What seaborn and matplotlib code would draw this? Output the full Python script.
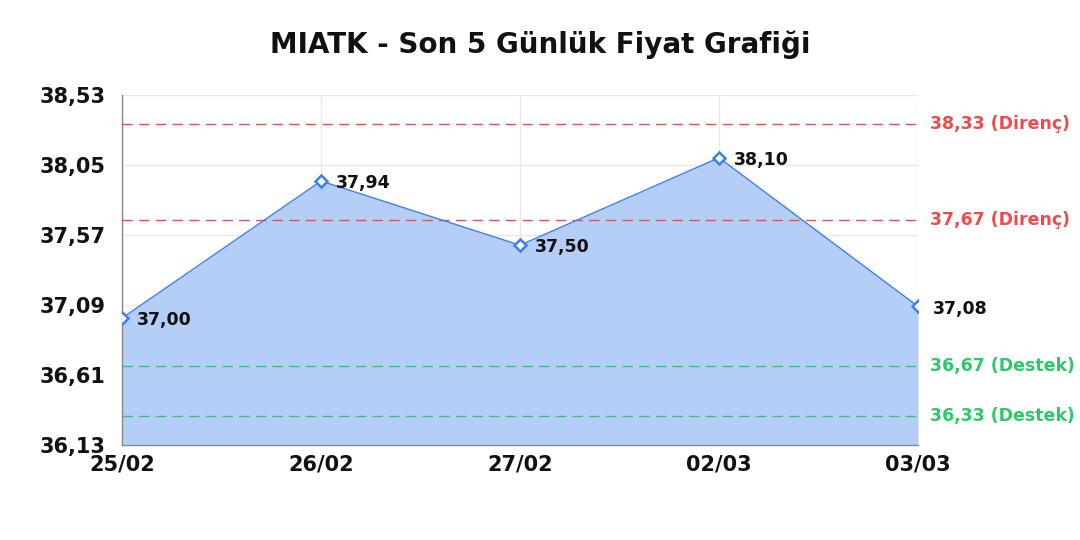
import numpy as np
import pandas as pd
import matplotlib
matplotlib.use('Agg')
import matplotlib.pyplot as plt
import seaborn as sns

# Data
dates = ['25/02', '26/02', '27/02', '02/03', '03/03']
prices = [37.00, 37.94, 37.50, 38.10, 37.08]
resistance = [38.33, 37.67]
support = [36.67, 36.33]
y_ticks = [36.13, 36.61, 37.09, 37.57, 38.05, 38.53]

line_color = '#3b7ff5'
fill_color = '#b5cef8'
red = '#ef4b4b'
green = '#2cc96a'
dark = '#111111'

df = pd.DataFrame({'idx': range(len(dates)), 'date': dates, 'price': prices})

sns.set_style('white')
plt.rcParams['font.family'] = ['DejaVu Sans']

fig = plt.figure(figsize=(10.8, 5.4), dpi=100)
ax = fig.add_axes([0.113, 0.176, 0.737, 0.648])

ax.fill_between(df['idx'], df['price'], y_ticks[0], color=fill_color, alpha=1, zorder=1, linewidth=0)
sns.lineplot(data=df, x='idx', y='price', color=line_color, linewidth=1, marker='D',
             markersize=6.5, markerfacecolor='white', markeredgecolor=line_color,
             markeredgewidth=1.8, ax=ax, zorder=4)

for i, p in zip(df['idx'], df['price']):
    ax.annotate(f'{p:.2f}'.replace('.', ','), (i, p), xytext=(11, -1.5), textcoords='offset points',
                ha='left', va='center', fontsize=12.5, fontweight='bold', color=dark, zorder=5)

for r in resistance:
    ax.axhline(r, color=red, linestyle=(0, (7.5, 4.5)), linewidth=1, zorder=3)
    ax.annotate(f'{r:.2f} (Direnç)'.replace('.', ','), (1, r), xycoords=('axes fraction', 'data'),
                xytext=(9, 0), textcoords='offset points', ha='left', va='center',
                fontsize=12.5, fontweight='bold', color=red)
for s in support:
    ax.axhline(s, color=green, linestyle=(0, (7.5, 4.5)), linewidth=1, zorder=3)
    ax.annotate(f'{s:.2f} (Destek)'.replace('.', ','), (1, s), xycoords=('axes fraction', 'data'),
                xytext=(9, 0), textcoords='offset points', ha='left', va='center',
                fontsize=12.5, fontweight='bold', color=green)

ax.set_xlim(0, len(dates) - 1)
ax.set_ylim(y_ticks[0], y_ticks[-1])
ax.set_xticks(df['idx'])
ax.set_xticklabels(dates, fontsize=15, fontweight='bold', color=dark)
ax.set_yticks(y_ticks)
ax.set_yticklabels([f'{t:.2f}'.replace('.', ',') for t in y_ticks], fontsize=15, fontweight='bold', color=dark)
ax.grid(True, color='#e8e8e8', linewidth=1, zorder=0)
ax.set_axisbelow(True)
ax.tick_params(axis='y', length=0, pad=12)
ax.tick_params(axis='x', length=0, pad=7)
ax.set_xlabel('')
ax.set_ylabel('')
sns.despine(ax=ax, top=True, right=True)
for sp in ['left', 'bottom']:
    ax.spines[sp].set_color('#888888')
    ax.spines[sp].set_linewidth(1)

fig.text(0.5, 0.918, 'MIATK - Son 5 Günlük Fiyat Grafiği', ha='center', va='center',
         fontsize=20, fontweight='bold', color=dark)

fig.savefig('out.png', dpi=100)
